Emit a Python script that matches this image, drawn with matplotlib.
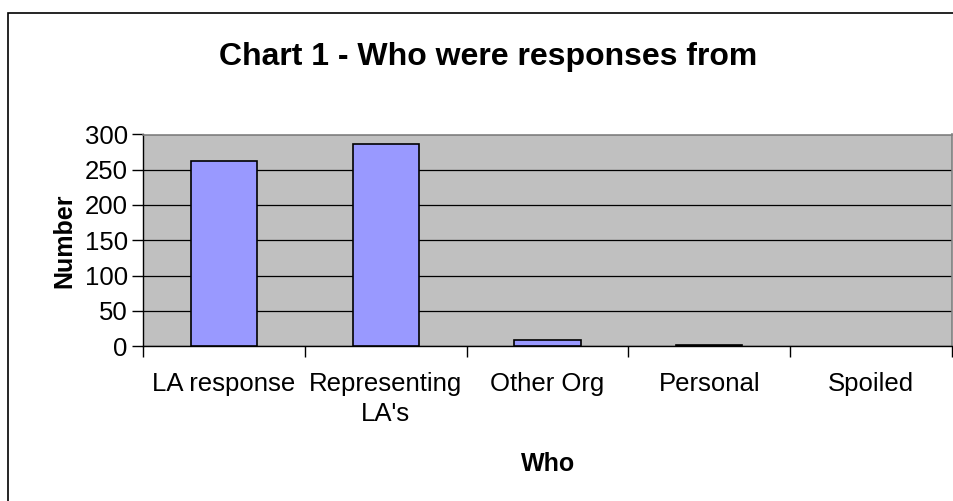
import matplotlib.pyplot as plt
import numpy as np
from matplotlib.patches import Rectangle

plt.rcParams['font.family'] = ['Liberation Sans', 'DejaVu Sans']

categories = ["LA response", "Representing\nLA's", "Other Org", "Personal", "Spoiled"]
counts = [263, 286, 8, 2, 0]
yticks = [0, 50, 100, 150, 200, 250, 300]

W, H = 954, 501
fig = plt.figure(figsize=(W / 100, H / 100), dpi=100)

# outer chart frame (runs off the right / bottom edge like the original)
fig.patches.append(Rectangle((8 / W, -0.02), 1.0, (H - 13) / H + 0.02,
                             transform=fig.transFigure, fill=False,
                             edgecolor="black", linewidth=1.2))

ax = fig.add_axes((143 / W, 155 / H, (952 - 143) / W, (346 - 134.5) / H))
ax.set_facecolor("#C0C0C0")

x = np.arange(len(categories))
edges = ["black" if c > 0 else "none" for c in counts]
ax.bar(x, counts, width=0.41, color="#9999FF", edgecolor=edges,
       linewidth=1.2, zorder=3)

ax.set_xlim(-0.5, len(categories) - 0.5)
ax.set_ylim(0, 300)
ax.set_yticks(yticks)
ax.yaxis.grid(True, color="black", linewidth=0.9, zorder=1)
ax.set_axisbelow(True)

ax.set_xticks(x)
ax.set_xticklabels(categories, fontsize=18.5, linespacing=1.3)
ax.set_xticks(np.arange(len(categories) + 1) - 0.5, minor=True)
ax.tick_params(axis="x", which="major", length=0, pad=19)
ax.tick_params(axis="x", which="minor", length=8, width=1, direction="out")
ax.tick_params(axis="y", length=8, width=1, direction="out", labelsize=18.5, pad=3)

for side in ["top", "right"]:
    ax.spines[side].set_color("#808080")
    ax.spines[side].set_linewidth(1.2)
for side in ["left", "bottom"]:
    ax.spines[side].set_color("black")
    ax.spines[side].set_linewidth(1)

ax.set_ylabel("Number", fontsize=18, fontweight="bold", labelpad=6)
fig.text(548 / W, 1 - 464 / H, "Who", fontsize=18, fontweight="bold",
         ha="center", va="center")
fig.text(488 / W, 1 - 57 / H, "Chart 1 - Who were responses from",
         fontsize=23, fontweight="bold", ha="center", va="center")

fig.savefig("out.png", dpi=100)
